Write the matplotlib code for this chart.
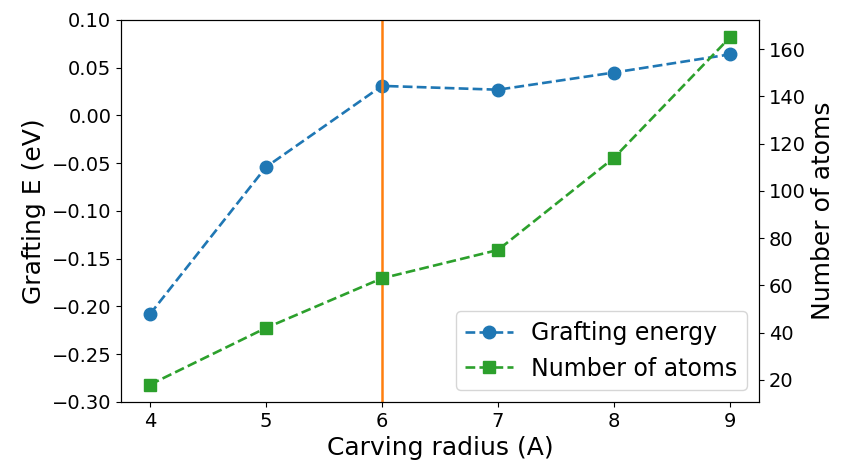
import matplotlib
matplotlib.use("Agg")
import matplotlib.pyplot as plt

radius = [4, 5, 6, 7, 8, 9]
grafting_energy = [-0.208, -0.054, 0.031, 0.027, 0.045, 0.064]
n_atoms = [18, 42, 63, 75, 114, 165]
chosen_radius = 6

fig = plt.figure(figsize=(8.42, 4.65), dpi=100)
ax = fig.add_axes([0.1437, 0.1355, 0.9014 - 0.1437, 0.957 - 0.1355])
ax2 = ax.twinx()

l1, = ax.plot(radius, grafting_energy, "--o", color="C0", lw=1.9, ms=9, label="Grafting energy")
l2, = ax2.plot(radius, n_atoms, "--s", color="C2", lw=1.9, ms=9, label="Number of atoms")
ax.axvline(chosen_radius, color="C1", lw=1.8)

ax.set_ylim(-0.30, 0.10)
ax.set_xlabel("Carving radius (A)", fontsize=18)
ax.set_ylabel("Grafting E (eV)", fontsize=18)
ax2.set_ylabel("Number of atoms", fontsize=18)
ax.tick_params(labelsize=14)
ax2.tick_params(labelsize=14)
ax2.legend([l1, l2], [l1.get_label(), l2.get_label()], loc="lower right", fontsize=17)

fig.savefig("out.png", dpi=100)
